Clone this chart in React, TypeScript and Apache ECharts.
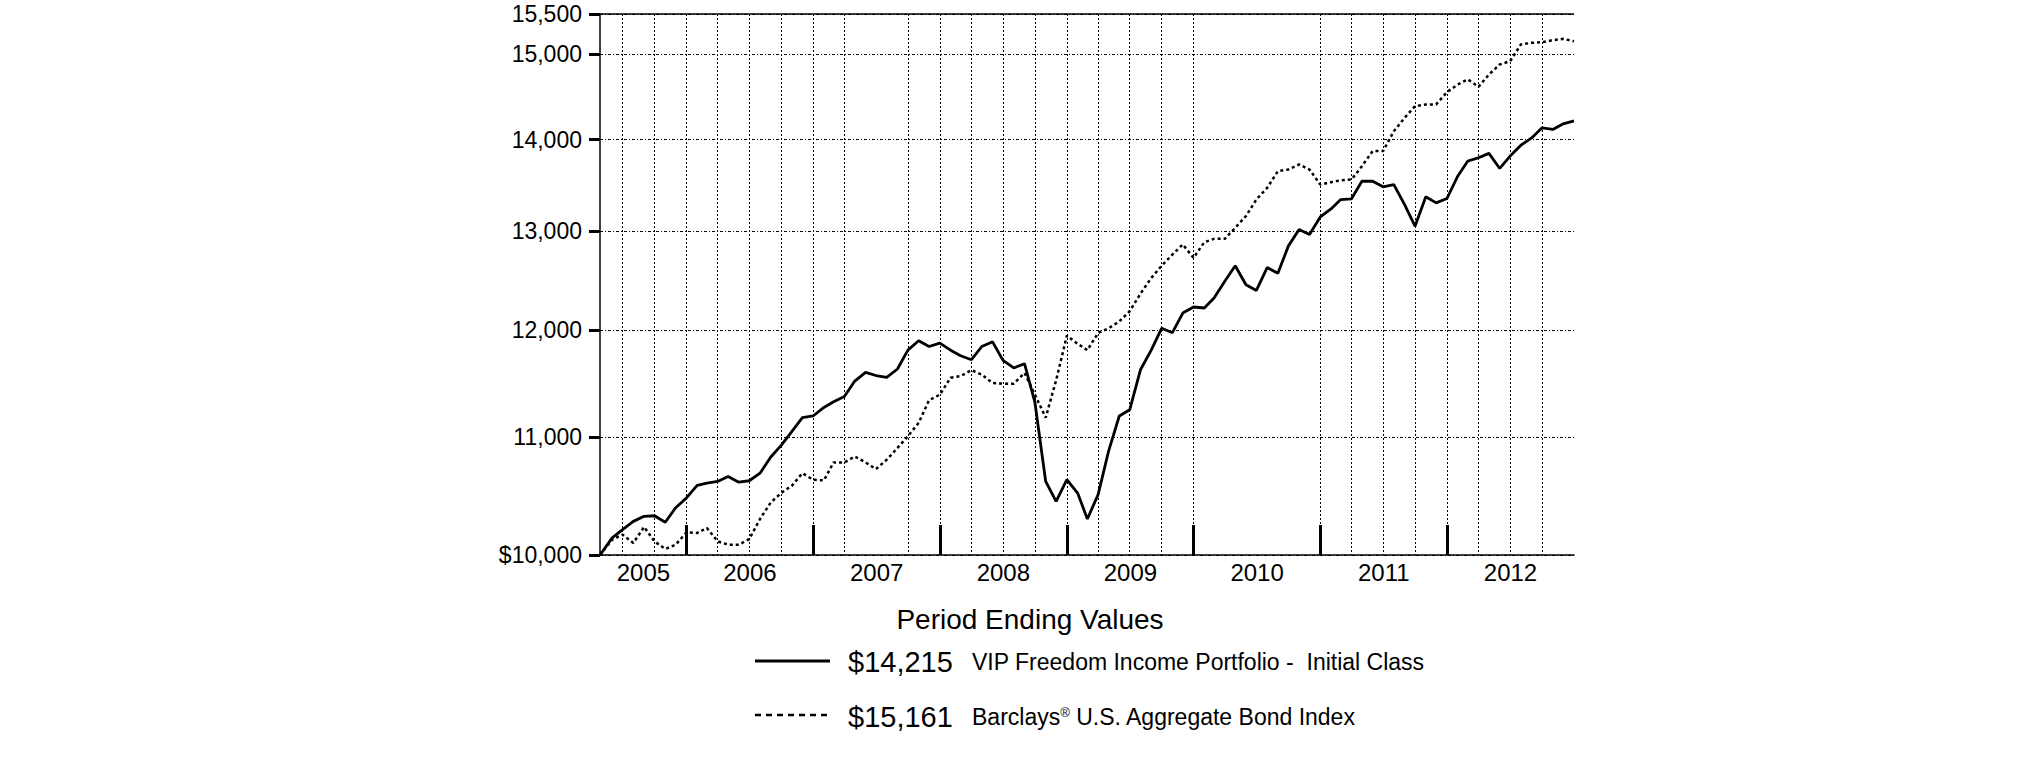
import React, { useEffect, useRef } from "react";
import * as echarts from "echarts";

const FONT = "'Liberation Sans', Arial, Helvetica, sans-serif";

const START_DATE = "2005-04-26";
const END_DATE = "2012-12-31";
const FIRST_MONTH = { year: 2005, month: 5 };
const LAST_MONTH = { year: 2012, month: 12 };

// Period ending values (start + month ends May 2005 .. Dec 2012)
const vipValues = [
  10000, 10140, 10207, 10276, 10318, 10323, 10269, 10390, 10473,
  10580, 10600, 10614, 10656, 10608, 10620, 10685, 10826, 10929, 11054, 11177, 11192,
  11270, 11321, 11370, 11513, 11594, 11565, 11547, 11626, 11805, 11895, 11840, 11872,
  11805, 11752, 11714, 11840, 11885, 11708, 11636, 11676, 11315, 10614, 10444, 10629,
  10515, 10296, 10501, 10876, 11192, 11248, 11619, 11805, 12016, 11973, 12165, 12225,
  12215, 12315, 12483, 12640, 12448, 12390, 12622, 12564, 12843, 13017, 12964, 13150,
  13236, 13337, 13345, 13536, 13536, 13475, 13500, 13283, 13052, 13367, 13301, 13348,
  13592, 13759, 13796, 13845, 13677, 13815, 13937, 14020, 14135, 14116, 14181, 14215,
];

const barclaysValues = [
  10000, 10125, 10166, 10098, 10230, 10111, 10049, 10084, 10185,
  10180, 10221, 10111, 10084, 10084, 10130, 10296, 10435, 10515, 10578, 10685, 10629,
  10623, 10779, 10779, 10831, 10779, 10721, 10802, 10906, 11011, 11130, 11336, 11387,
  11544, 11560, 11615, 11573, 11495, 11489, 11489, 11589, 11387, 11177, 11520, 11945,
  11866, 11805, 11971, 12016, 12083, 12183, 12358, 12515, 12640, 12756, 12860, 12721,
  12884, 12919, 12919, 13035, 13160, 13337, 13464, 13647, 13665, 13721, 13665, 13500,
  13525, 13547, 13555, 13702, 13871, 13871, 14096, 14250, 14385, 14405, 14405, 14549,
  14640, 14700, 14613, 14759, 14879, 14919, 15122, 15142, 15150, 15175, 15191, 15161,
];

const yTickValues = [10000, 11000, 12000, 13000, 14000, 15000, 15500];

const yearEndTicks = [
  "2005-12-31", "2006-12-31", "2007-12-31", "2008-12-31",
  "2009-12-31", "2010-12-31", "2011-12-31",
];

const yearLabelDates = [
  "2005-08-29", "2006-07-02", "2007-07-02", "2008-07-01",
  "2009-07-02", "2010-07-02", "2011-07-02", "2012-07-01",
];

const gridLineDates = [
  "2005-06-30", "2005-09-30", "2005-12-31",
  "2006-03-31", "2006-06-30", "2006-09-30", "2006-12-31",
  "2007-03-31", "2007-09-30", "2007-12-31",
  "2008-03-31", "2008-06-30", "2008-09-30", "2008-12-31",
  "2009-03-31", "2009-06-30", "2009-09-30", "2009-12-31",
  "2010-12-31",
  "2011-03-31", "2011-06-30", "2011-09-30", "2011-12-31",
  "2012-03-31", "2012-06-30", "2012-09-30",
];

const TITLE_TEXT = "Period Ending Values";
const VIP_NAME = "VIP Freedom Income Portfolio -  Initial Class";
const BARCLAYS_NAME_RICH = "Barclays{sup|®} U.S. Aggregate Bond Index";

function ts(s: string): number {
  const [y, m, d] = s.split("-").map(Number);
  return new Date(y, m - 1, d).getTime();
}

function periodDates(): number[] {
  const out: number[] = [ts(START_DATE)];
  let y = FIRST_MONTH.year;
  let m = FIRST_MONTH.month;
  while (y < LAST_MONTH.year || (y === LAST_MONTH.year && m <= LAST_MONTH.month)) {
    out.push(new Date(y, m, 0).getTime());
    m++;
    if (m > 12) {
      m = 1;
      y++;
    }
  }
  return out;
}

function money(v: number): string {
  return "$" + Math.round(v).toLocaleString("en-US");
}

export default function App() {
  const ref = useRef<HTMLDivElement>(null);

  useEffect(() => {
    if (!ref.current) return;
    const chart = echarts.init(ref.current, undefined, { renderer: "svg" });
    const dates = periodDates();
    const vipData = vipValues.map((v, i) => [dates[i], v]);
    const barData = barclaysValues.map((v, i) => [dates[i], v]);
    const xMin = ts(START_DATE);
    const xMax = ts(END_DATE);

    const option: any = {
      animation: false,
      backgroundColor: "#fff",
      grid: { left: 600, top: 14, width: 974, height: 541, containLabel: false },
      xAxis: [
        {
          type: "value",
          min: xMin,
          max: xMax,
          position: "bottom",
          axisLine: { show: true, onZero: false, lineStyle: { color: "#000", width: 1.5 } },
          axisTick: {
            show: true,
            inside: true,
            length: 30,
            lineStyle: { color: "#000", width: 3 },
            customValues: yearEndTicks.map(ts),
          },
          axisLabel: {
            show: true,
            customValues: yearLabelDates.map(ts),
            formatter: (v: number) => String(new Date(v).getFullYear()),
            color: "#000",
            fontSize: 24,
            fontFamily: FONT,
            margin: 5,
            hideOverlap: false,
          },
          splitLine: { show: false },
        },
        {
          type: "value",
          min: xMin,
          max: xMax,
          position: "bottom",
          axisLine: { show: false, onZero: false },
          axisTick: { show: false, customValues: gridLineDates.map(ts) },
          axisLabel: { show: false },
          splitLine: {
            show: true,
            lineStyle: { color: "#000", width: 1, type: [2, 2] },
          },
        },
      ],
      yAxis: [
        {
          type: "log",
          logBase: 10,
          min: 10000,
          max: 15500,
          axisLine: { show: true, lineStyle: { color: "#000", width: 1.5 } },
          axisTick: {
            show: true,
            inside: false,
            length: 11,
            lineStyle: { color: "#000", width: 3 },
            customValues: yTickValues,
          },
          axisLabel: {
            show: true,
            customValues: yTickValues,
            formatter: (v: number) => {
              const r = Math.round(v);
              return r === 10000 ? money(r) : r.toLocaleString("en-US");
            },
            color: "#000",
            fontSize: 23,
            fontFamily: FONT,
            margin: 18,
          },
          splitLine: {
            show: true,
            lineStyle: { color: "#000", width: 1, type: [3, 2, 1, 2] },
          },
        },
      ],
      series: [
        {
          name: "Barclays",
          type: "line",
          xAxisIndex: 0,
          yAxisIndex: 0,
          data: barData,
          showSymbol: false,
          symbol: "none",
          lineStyle: { color: "#000", width: 2.5, type: [3, 3] },
          z: 3,
        },
        {
          name: "VIP",
          type: "line",
          xAxisIndex: 0,
          yAxisIndex: 0,
          data: vipData,
          showSymbol: false,
          symbol: "none",
          lineStyle: { color: "#000", width: 2.8 },
          z: 4,
          markLine: {
            silent: true,
            symbol: "none",
            label: { show: false },
            lineStyle: { color: "#000", width: 1.5, type: "solid" },
            data: [{ yAxis: 15500 }],
          },
        },
      ],
      graphic: [
        {
          type: "text",
          x: 1030,
          y: 619,
          style: {
            text: TITLE_TEXT,
            align: "center",
            verticalAlign: "middle",
            fontSize: 28,
            fontFamily: FONT,
            fill: "#000",
          },
        },
        {
          type: "line",
          shape: { x1: 755, y1: 661, x2: 830, y2: 661 },
          style: { stroke: "#000", lineWidth: 3 },
        },
        {
          type: "text",
          x: 848,
          y: 662,
          style: {
            text: money(vipValues[vipValues.length - 1]),
            verticalAlign: "middle",
            fontSize: 29,
            fontFamily: FONT,
            fill: "#000",
          },
        },
        {
          type: "text",
          x: 972,
          y: 662,
          style: {
            text: VIP_NAME,
            verticalAlign: "middle",
            fontSize: 23,
            fontFamily: FONT,
            fill: "#000",
          },
        },
        {
          type: "line",
          shape: { x1: 755, y1: 715, x2: 830, y2: 715 },
          style: { stroke: "#000", lineWidth: 2.5, lineDash: [6, 5] },
        },
        {
          type: "text",
          x: 848,
          y: 717,
          style: {
            text: money(barclaysValues[barclaysValues.length - 1]),
            verticalAlign: "middle",
            fontSize: 29,
            fontFamily: FONT,
            fill: "#000",
          },
        },
        {
          type: "text",
          x: 972,
          y: 717,
          style: {
            text: BARCLAYS_NAME_RICH,
            verticalAlign: "middle",
            fontSize: 23,
            fontFamily: FONT,
            fill: "#000",
            rich: {
              sup: { fontSize: 13, verticalAlign: "top", fontFamily: FONT, fill: "#000" },
            },
          },
        },
      ],
    };

    chart.setOption(option);
    return () => {
      chart.dispose();
    };
  }, []);

  return (
    <div
      ref={ref}
      style={{ position: "absolute", left: 0, top: 0, width: 2025, height: 761, background: "#fff" }}
    />
  );
}
